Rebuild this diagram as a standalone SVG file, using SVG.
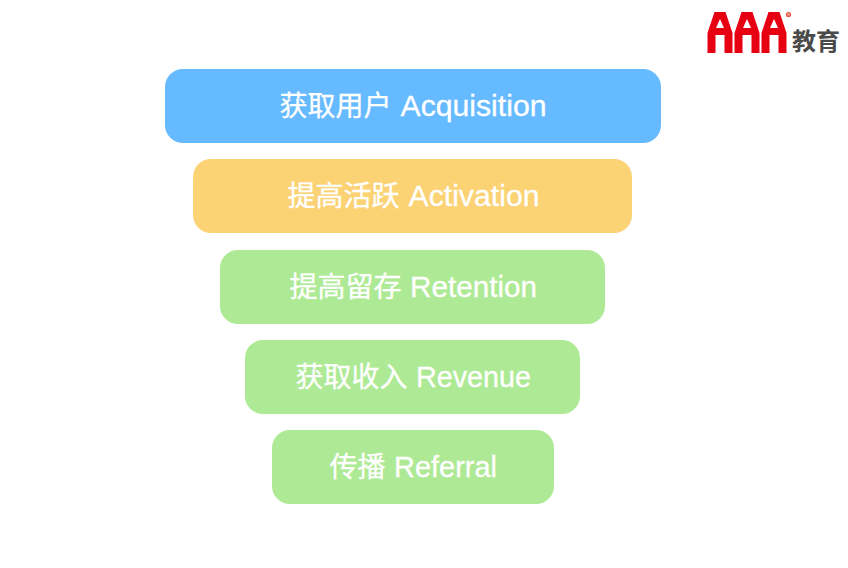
<svg xmlns="http://www.w3.org/2000/svg" width="848" height="568" viewBox="0 0 848 568">
<style>
.bar{stroke:none}
.lbl{font-family:"Noto Sans CJK SC","Liberation Sans",sans-serif;font-size:28px;fill:#fff;stroke:#fff;stroke-width:.3px}
.lat{font-family:"Liberation Sans",Arial,sans-serif;font-size:29px}
.a{fill:#e60012;fill-rule:evenodd}
</style>
<defs><path id="A" class="a" d="M0 53V33L7 12H18L25 33V53H17V35H8V53ZM8.500 28H16.500L12.500 19Z"/></defs>
<rect width="848" height="568" fill="#fff"/>
<g id="logo">
<use href="#A" x="707.500"/><use href="#A" x="734.500"/><use href="#A" x="761.500"/>
<circle cx="788.500" cy="14.500" r="2" fill="#f4a090" stroke="#e8503a" stroke-width="1.200"/>
<text x="792" y="50" font-family="Noto Sans CJK SC,sans-serif" font-size="24" font-weight="700" fill="#4a4a4a" textLength="48" lengthAdjust="spacingAndGlyphs">教育</text>
</g>
<g id="n1"><rect class="bar" x="165" y="69" width="496" height="74" rx="18" fill="#66baff"/><text class="lbl" x="279.500" y="115.500">获取用户<tspan class="lat" x="400.500" textLength="146" lengthAdjust="spacingAndGlyphs">Acquisition</tspan></text></g>
<g id="n2"><rect class="bar" x="193" y="159" width="439" height="74" rx="18" fill="#fbd274"/><text class="lbl" x="287.500" y="205.500">提高活跃<tspan class="lat" x="408.500" textLength="131" lengthAdjust="spacingAndGlyphs">Activation</tspan></text></g>
<g id="n3"><rect class="bar" x="220" y="250" width="385" height="74" rx="18" fill="#aeea95"/><text class="lbl" x="289.500" y="296.500">提高留存<tspan class="lat" x="410" textLength="127" lengthAdjust="spacingAndGlyphs">Retention</tspan></text></g>
<g id="n4"><rect class="bar" x="245" y="340" width="335" height="74" rx="18" fill="#aeea95"/><text class="lbl" x="295.500" y="386.500">获取收入<tspan class="lat" x="416" textLength="115" lengthAdjust="spacingAndGlyphs">Revenue</tspan></text></g>
<g id="n5"><rect class="bar" x="272" y="430" width="282" height="74" rx="18" fill="#aeea95"/><text class="lbl" x="329.500" y="476.500">传播<tspan class="lat" x="394" textLength="103" lengthAdjust="spacingAndGlyphs">Referral</tspan></text></g>
<g id="connectors"/>
</svg>
